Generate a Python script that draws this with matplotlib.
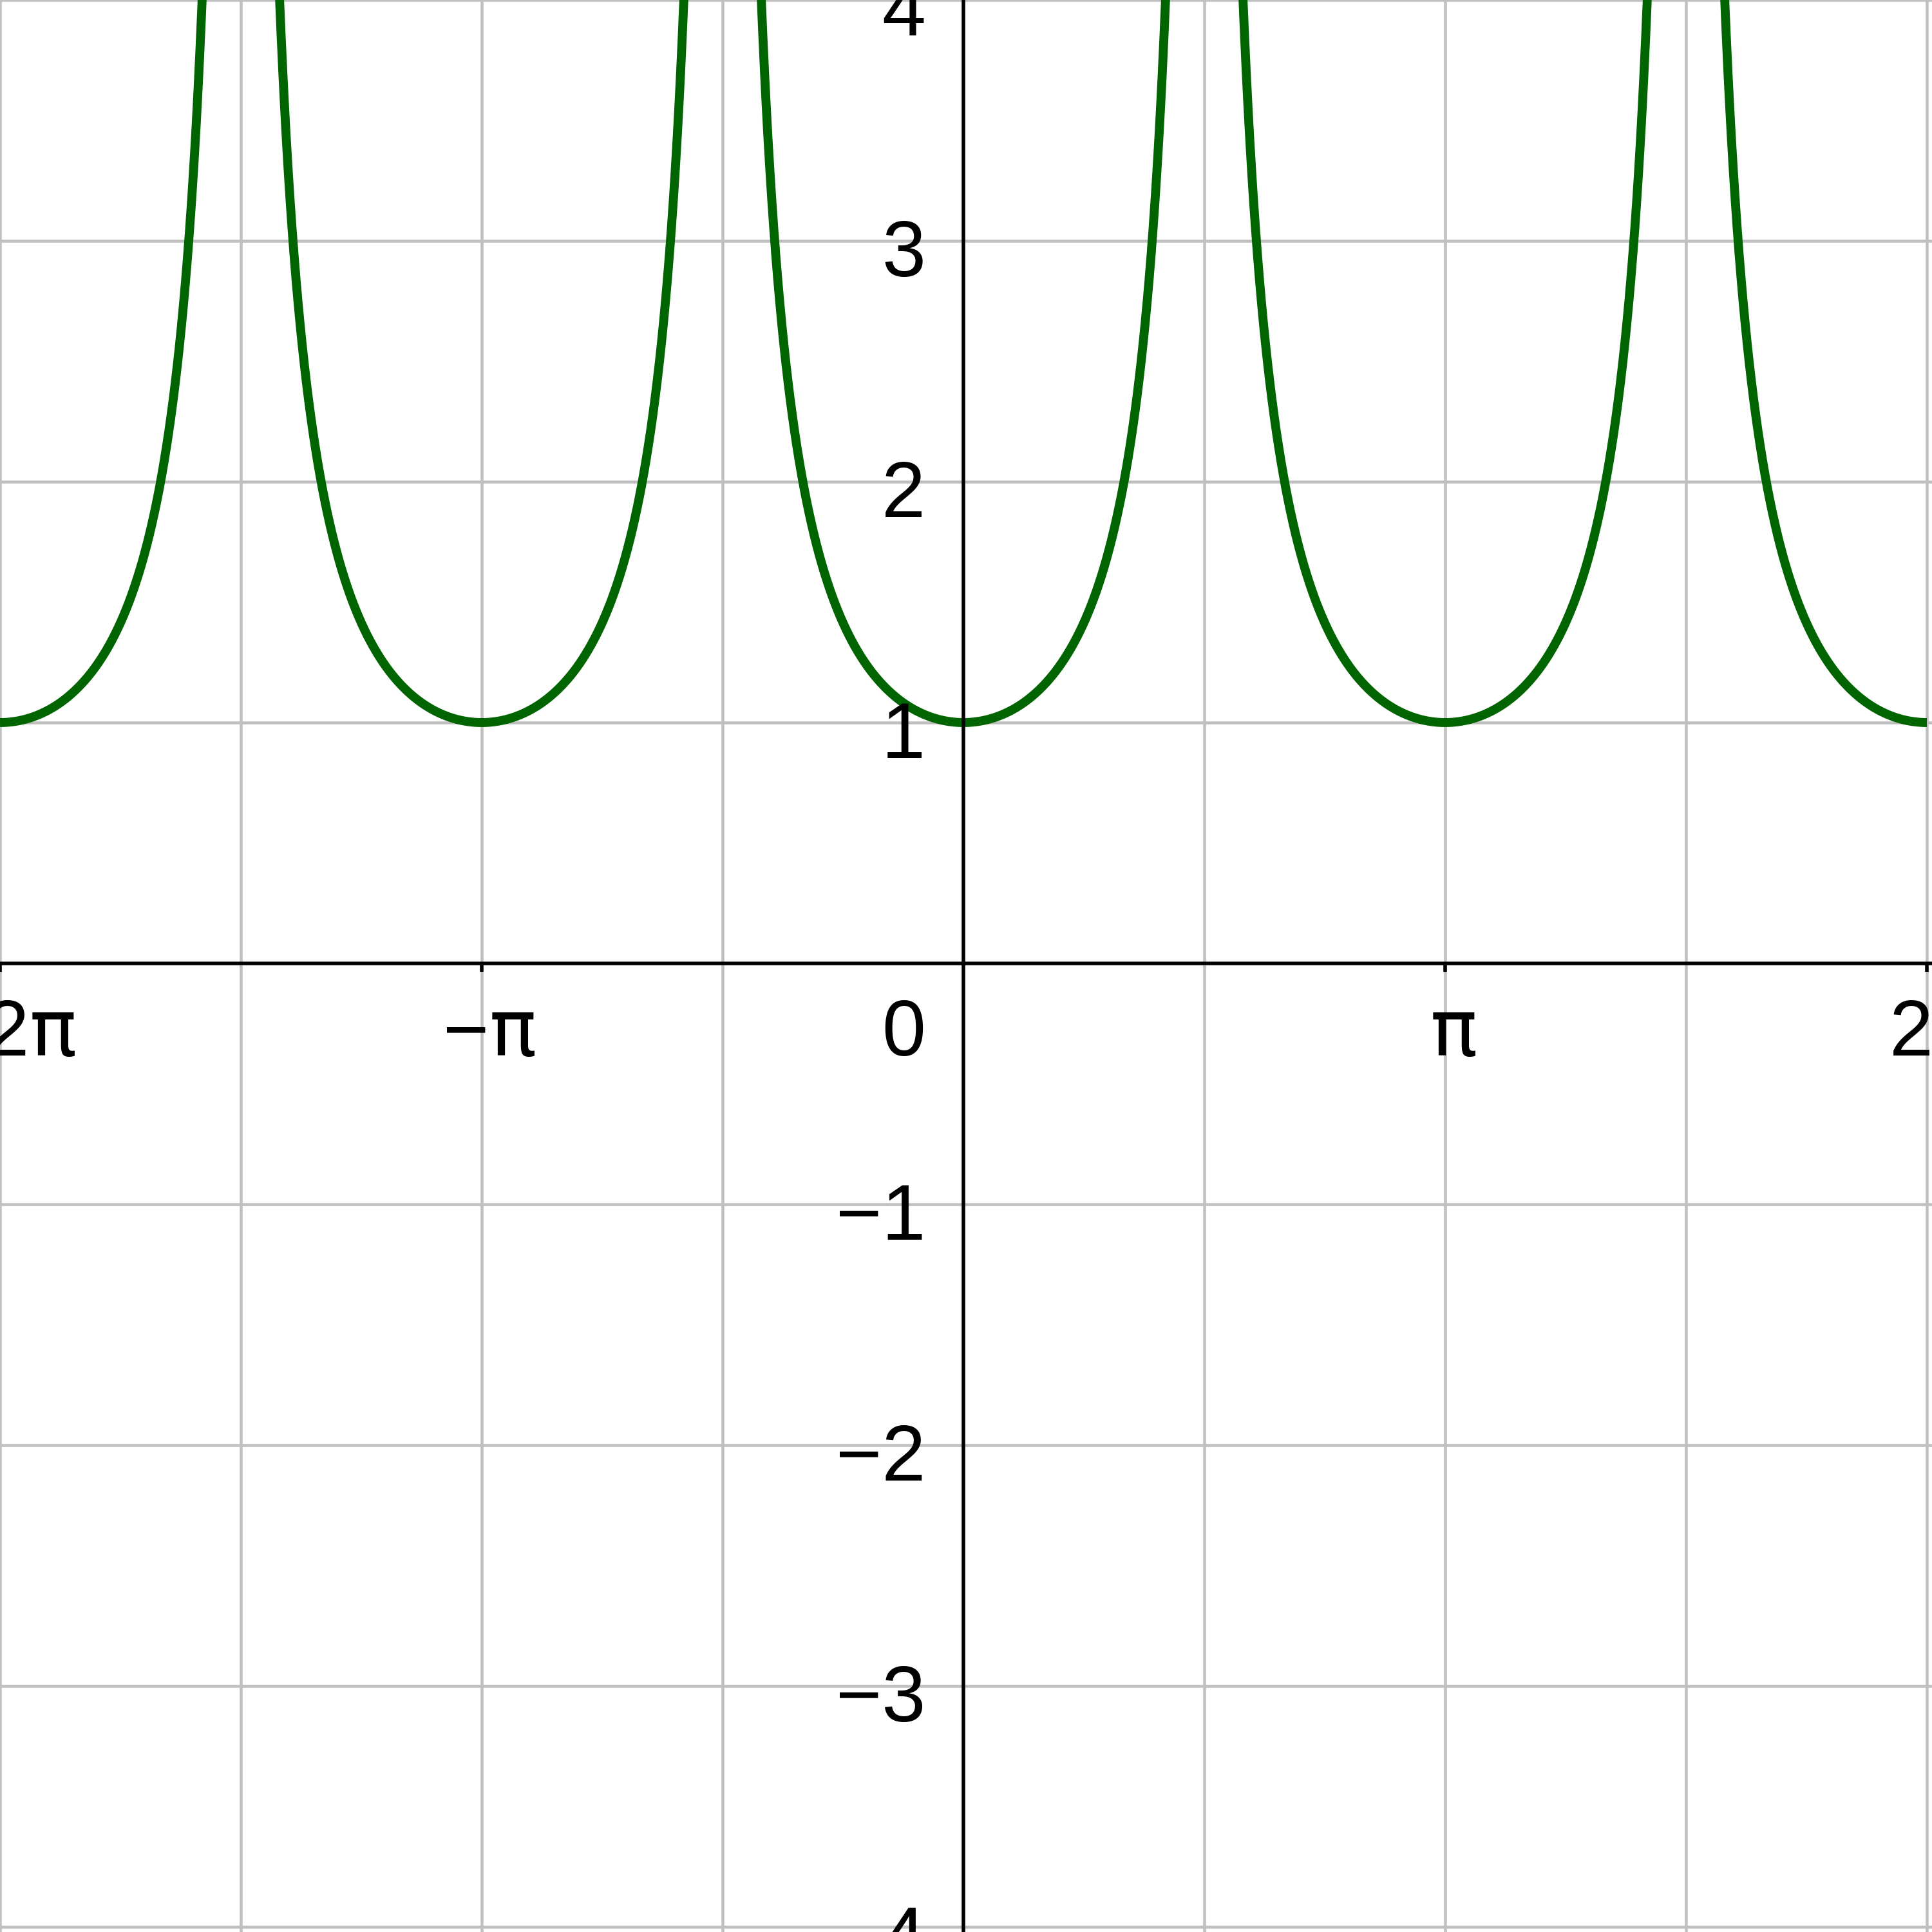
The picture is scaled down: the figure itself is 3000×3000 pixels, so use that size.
import numpy as np
import matplotlib.pyplot as plt

# tick / grid positions and labels
x_ticks = [-2 * np.pi, -np.pi, np.pi, 2 * np.pi]
x_prefix = ["\u22122", "\u2212", "", "2"]   # text before the pi sign
y_ticks = [-4, -3, -2, -1, 1, 2, 3, 4]
y_labels = ["\u22124", "\u22123", "\u22122", "\u22121", "1", "2", "3", "4"]
x_grid = [k * np.pi / 2 for k in range(-4, 5)]
y_grid = list(range(-4, 5))

# plotted function y = |sec x| on [-2pi, 2pi]
x_min, x_max = -2 * np.pi, 2 * np.pi
y_min, y_max = -4, 4
x = np.linspace(x_min, x_max, 20001)
y = np.abs(1.0 / np.cos(x))
y[y > 12] = np.nan

plt.rcParams['font.family'] = ['Liberation Sans', 'DejaVu Sans']

fig = plt.figure(figsize=(30, 30), dpi=100)
ax = fig.add_axes([0, 0, 1, 1])

# small extra margin on right / bottom as in the reference
ax.set_xlim(x_min, x_min + (x_max - x_min) * 3000 / 2992)
ax.set_ylim(y_max - (y_max - y_min) * 3000 / 2992, y_max)

for gx in x_grid:
    ax.axvline(gx, color='#c0c0c0', lw=3.3, zorder=0)
for gy in y_grid:
    ax.axhline(gy, color='#c0c0c0', lw=3.3, zorder=0)

ax.plot(x, y, color='#006400', lw=10, zorder=2, solid_capstyle='butt')

# axes through the origin
for side in ['top', 'right']:
    ax.spines[side].set_visible(False)
ax.spines['left'].set_position(('data', 0))
ax.spines['bottom'].set_position(('data', 0))
for side in ['left', 'bottom']:
    ax.spines[side].set_linewidth(4)
    ax.spines[side].set_zorder(3)

ax.set_xticks(x_ticks)
ax.set_xticklabels([])
ax.tick_params(axis='x', direction='out', length=9, width=4, color='black')
ax.set_yticks([])

fs = 88
base_dy = -143   # baseline of x labels below the x axis, pixels
renderer = fig.canvas.get_renderer()
for xt, pre in zip(x_ticks, x_prefix):
    # digits in Liberation Sans, pi sign in DejaVu Sans
    t_pre = ax.annotate(pre, (xt, 0), xytext=(0, base_dy), textcoords='offset pixels',
                        ha='right', va='baseline', fontsize=fs, zorder=4,
                        annotation_clip=False)
    t_pi = ax.annotate("\u03c0", (xt, 0), xytext=(0, base_dy), textcoords='offset pixels',
                       ha='left', va='baseline', fontsize=fs, zorder=4,
                       family='DejaVu Sans', annotation_clip=False)
    w_pre = t_pre.get_window_extent(renderer).width if pre else 0
    w_pi = t_pi.get_window_extent(renderer).width
    join = 13 - (w_pre + w_pi) / 2 + w_pre
    t_pre.xyann = (join, base_dy)
    t_pi.xyann = (join, base_dy)

ax.annotate("0", (0, 0), xytext=(-59, base_dy), textcoords='offset pixels',
            ha='right', va='baseline', fontsize=fs, zorder=4)
for yt, lab in zip(y_ticks, y_labels):
    ax.annotate(lab, (0, yt), xytext=(-59, -55), textcoords='offset pixels',
                ha='right', va='baseline', fontsize=fs, zorder=4,
                annotation_clip=False)

fig.savefig('out.png', dpi=100)
